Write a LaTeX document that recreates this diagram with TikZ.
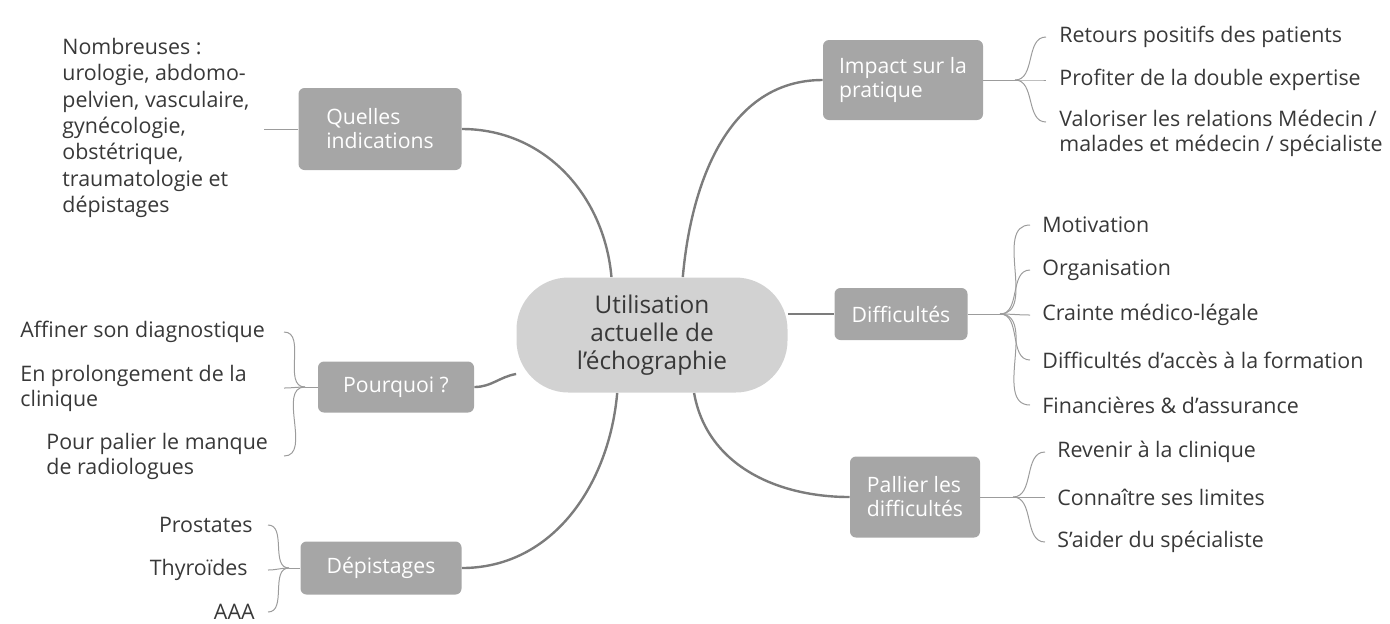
\documentclass[tikz,border=0pt]{standalone}
\usepackage{fontspec}
\setmainfont{Open Sans}
\usepackage{tikz}
\usetikzlibrary{backgrounds}
\definecolor{topicgray}{HTML}{A6A6A6}
\definecolor{centregray}{HTML}{D2D2D2}
\definecolor{linegray}{HTML}{7C7C7C}
\definecolor{fangray}{HTML}{9C9C9C}
\definecolor{leaftext}{HTML}{383838}

\begin{document}
\begin{tikzpicture}[x=0.5pt,y=-0.5pt,
    topic/.style={rectangle, rounded corners=3pt, fill=topicgray, text=white, font=\fontsize{10.6}{12}\selectfont, align=left, inner sep=0pt},
    leaf/.style={text=leaftext, font=\fontsize{10.7}{12.5}\selectfont, align=left, inner sep=1pt},
    branch/.style={draw=linegray, line width=1.2pt},
    fan/.style={draw=fangray, line width=0.5pt}]

    \useasboundingbox (0,0) rectangle (1390,623);

%the centre
    \node[rectangle, rounded corners=26pt, fill=centregray, text=leaftext, minimum width=135.5pt, minimum height=57.5pt, align=center, font=\fontsize{12.2}{14}\selectfont] (ctr) at (652,335) {Utilisation\\actuelle de\\l'échographie};

%the topics
    \node[topic, minimum width=81.5pt, minimum height=41pt] (qi) at (380,129) {Quelles\\indications};
    \node[topic, minimum width=80pt, minimum height=40pt] (ip) at (903,80) {Impact sur la\\pratique};
    \node[topic, minimum width=66.5pt, minimum height=26pt] (df) at (901,314) {Difficultés};
    \node[topic, minimum width=65pt, minimum height=40.5pt] (pl) at (915,497) {Pallier les\\difficultés};
    \node[topic, minimum width=78pt, minimum height=25.5pt] (pq) at (396,387) {Pourquoi ?};
    \node[topic, minimum width=80.5pt, minimum height=26.5pt] (dp) at (381,568) {Dépistages};

%the leaves
    \node[leaf, anchor=west, font=\fontsize{10.7}{13.2}\selectfont] (qi1) at (60,128) {Nombreuses :\\urologie, abdomo-\\pelvien, vasculaire,\\gynécologie,\\obstétrique,\\traumatologie et\\dépistages};

    \node[leaf, anchor=west] (ip1) at (1057,37) {Retours positifs des patients};
    \node[leaf, anchor=west] (ip2) at (1057,80) {Profiter de la double expertise};
    \node[leaf, anchor=north west] (ip3) at (1057,108) {Valoriser les relations Médecin /\\malades et médecin / spécialiste};

    \node[leaf, anchor=west] (df1) at (1040,225) {Motivation};
    \node[leaf, anchor=west] (df2) at (1040,270) {Organisation};
    \node[leaf, anchor=west] (df3) at (1040,315) {Crainte médico-légale};
    \node[leaf, anchor=west] (df4) at (1040,360) {Difficultés d'accès à la formation};
    \node[leaf, anchor=west] (df5) at (1040,405) {Financières \& d'assurance};

    \node[leaf, anchor=west] (pl1) at (1055,452) {Revenir à la clinique};
    \node[leaf, anchor=west] (pl2) at (1055,497) {Connaître ses limites};
    \node[leaf, anchor=west] (pl3) at (1055,542) {S'aider du spécialiste};

    \node[leaf, anchor=west] (pq1) at (18,332) {Affiner son diagnostique};
    \node[leaf, anchor=west] (pq2) at (18,388) {En prolongement de la\\clinique};
    \node[leaf, anchor=west] (pq3) at (44,456) {Pour palier le manque\\de radiologues};

    \node[leaf, anchor=east] (dp1) at (255,525) {Prostates};
    \node[leaf, anchor=east] (dp2) at (250,570) {Thyroïdes};
    \node[leaf, anchor=east] (dp3) at (257,612) {AAA};

%the hubs
    \coordinate (qi-end) at (264,129);
    \coordinate (ip-hub) at (1015,80);   \coordinate (ip-end) at (1046,0);
    \coordinate (df-hub) at (1000,314);  \coordinate (df-end) at (1030,0);
    \coordinate (pl-hub) at (1013,497);  \coordinate (pl-end) at (1045,0);
    \coordinate (pq-hub) at (305,387);   \coordinate (pq-end) at (284,0);
    \coordinate (dp-hub) at (289,568);   \coordinate (dp-end) at (268,0);

\begin{scope}[on background layer]
%the branches
    \draw[branch] (ctr.125) to[out=95, in=0] (qi.east);
    \draw[branch] (ctr.62) to[out=85, in=180] (ip.west);
    \draw[branch] (ctr.east |- df.west) to (df.west);
    \draw[branch] (ctr.306) to[out=-80, in=180] (pl.west);
    \draw[branch] (ctr.196) to[out=190, in=0] (pq.east);
    \draw[branch] (ctr.239) to[out=-95, in=0] (dp.east);

%the fans
    \draw[fan] (qi.west) to (qi-end);
    \draw[fan] (ip.east) to (ip-hub);
    \draw[fan] (df.east) to (df-hub);
    \draw[fan] (pl.east) to (pl-hub);
    \draw[fan] (pq.west) to (pq-hub);
    \draw[fan] (dp.west) to (dp-hub);

    \foreach \i in {1,2}
        \draw[fan] (ip-hub) to[out=0, in=180] (ip\i.west -| ip-end);
    \draw[fan] (ip-hub) to[out=0, in=180] ([yshift=-7pt]ip3.north west -| ip-end);
    \foreach \i in {1,...,5}
        \draw[fan] (df-hub) to[out=0, in=180] (df\i.west -| df-end);
    \foreach \i in {1,2,3}
        \draw[fan] (pl-hub) to[out=0, in=180] (pl\i.west -| pl-end);
    \foreach \i in {1,2,3}
        \draw[fan] (pq-hub) to[out=180, in=0] (pq\i.east -| pq-end);
    \foreach \i in {1,2,3}
        \draw[fan] (dp-hub) to[out=180, in=0] (dp\i.east -| dp-end);
\end{scope}
\end{tikzpicture}
\end{document}
